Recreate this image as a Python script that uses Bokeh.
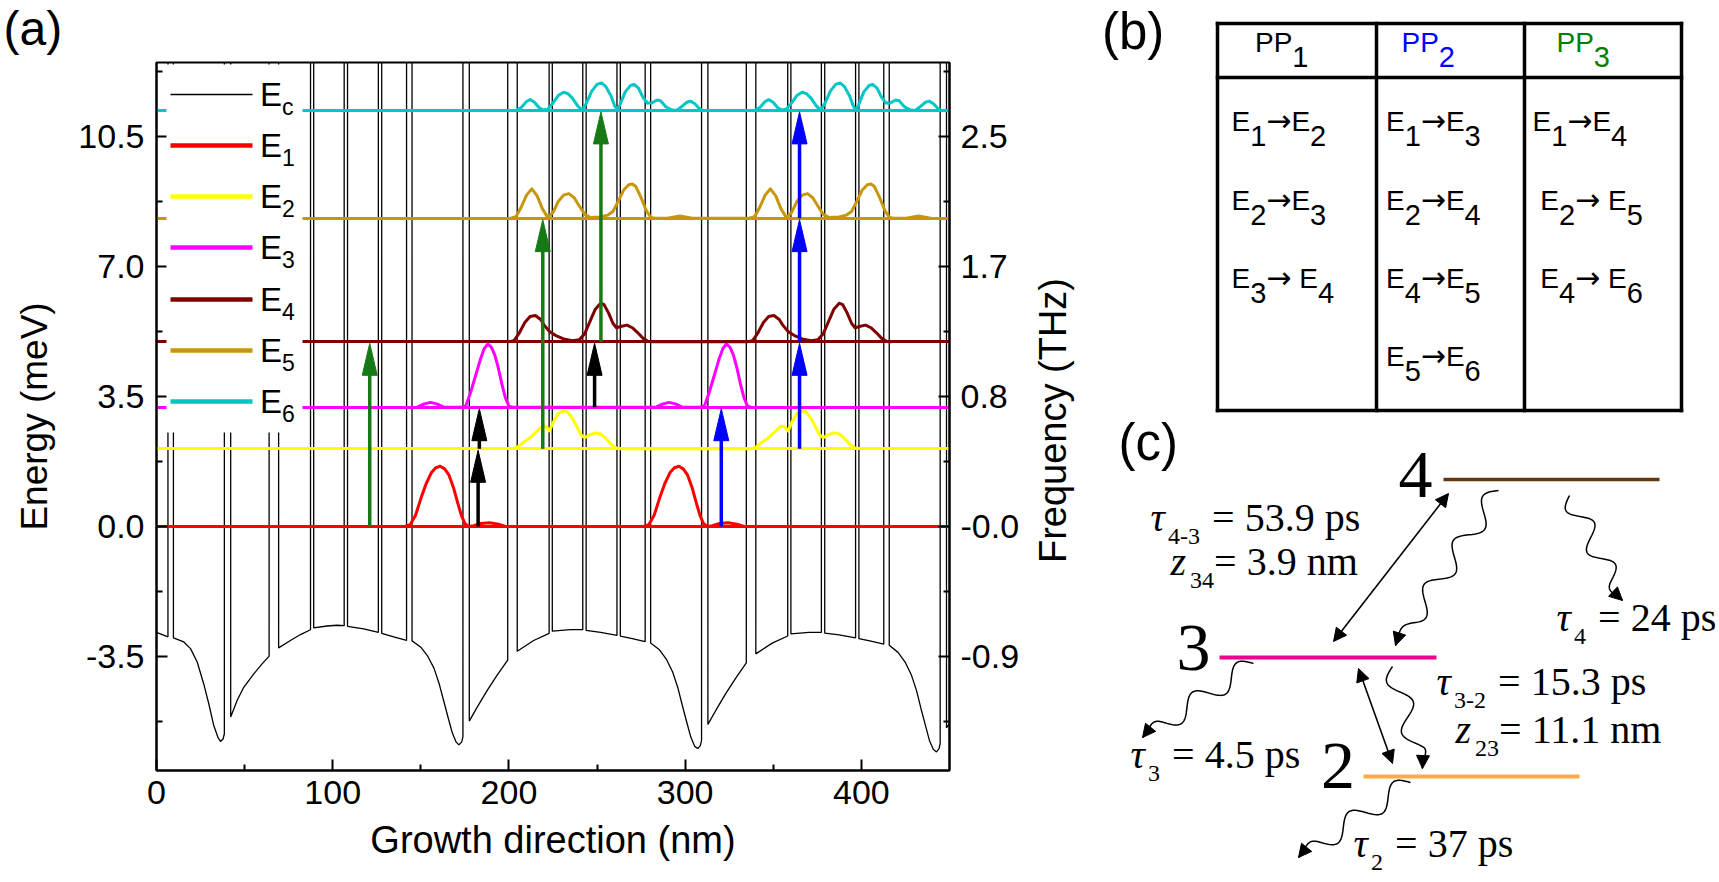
import math
from bokeh.plotting import figure
from bokeh.models import (Range1d, FixedTicker, Label, BoxAnnotation, Arrow, NormalHead,
                          LinearAxis, ColumnDataSource, CustomJSTickFormatter)
from bokeh.layouts import row, column
from bokeh.embed import file_html
from bokeh.resources import INLINE
from bokeh.core.properties import value, field

SANS = "Liberation Sans"
SERIF = "Liberation Serif"
ARROW_FONT = "DejaVu Sans"
BASELINE_SHIFT = 0.40   # em; compensates the renderer's placement of alphabetic baselines

# ============================ panel (a) data ============================
legend_subscripts = ["c", "1", "2", "3", "4", "5", "6"]
E_levels = [0.0, 2.09, 3.21, 4.97, 8.30, 11.20]            # meV
E_colors = ["#ff0000", "#ffff00", "#ff00ff", "#800000", "#c8960a", "#00c6c6"]

x_ticks = [0, 100, 200, 300, 400]
x_minor_ticks = [50, 150, 250, 350]
e_ticks = [-3.5, 0.0, 3.5, 7.0, 10.5]
e_minor_ticks = [-5.25, -1.75, 1.75, 5.25, 8.75, 12.25]
e_tick_labels = ["-3.5", "0.0", "3.5", "7.0", "10.5"]
thz_tick_labels = ["-0.9", "-0.0", "0.8", "1.7", "2.5"]

# conduction band: well-floor points (nm, meV); barrier edges (nm)
ec_x_p1 = [0.0, 6.5, 9.6, 15.5, 19.3, 23.1, 26.8, 29.7, 32.5, 34.8, 36.3, 37.8, 38.5,
           42.1, 45.8, 49.5, 55.2, 59.9, 63.9, 69.3, 76.0, 81.7, 87.4, 89.2, 96.8, 102.5, 106.5,
           108.4, 117.6, 125.9, 127.8, 134.6, 141.9]
ec_y_p1 = [-2.85, -2.97, -3.00, -3.11, -3.29, -3.65, -4.24, -4.78, -5.36, -5.67, -5.79, -5.72, -5.58,
           -5.13, -4.68, -4.33, -3.97, -3.70, -3.49, -3.27, -3.07, -2.91, -2.78, -2.73, -2.68, -2.66, -2.67,
           -2.69, -2.76, -2.85, -2.88, -2.97, -3.07]
ec_x_p2 = [145.0, 150.0, 154.0, 157.5, 160.5, 163.0, 165.5, 167.8, 170.0, 171.6, 173.2, 173.9,
           177.5, 181.9, 187.6, 193.2, 199.3, 204.7, 214.0, 222.8, 224.6, 234.8, 241.9,
           243.8, 252.0, 261.3, 263.2, 270.0, 277.3]
ec_y_p2 = [-3.08, -3.25, -3.50, -3.82, -4.25, -4.70, -5.15, -5.55, -5.80, -5.88, -5.80, -5.66,
           -5.24, -4.87, -4.42, -4.01, -3.60, -3.36, -3.07, -2.88, -2.82, -2.78, -2.78,
           -2.80, -2.85, -2.93, -2.95, -3.02, -3.10]
ec_x_p3 = [280.4, 285.4, 289.4, 292.9, 295.9, 298.4, 300.9, 303.2, 305.4, 307.2, 308.6, 309.3,
           312.9, 317.3, 323.0, 328.6, 334.7, 340.1, 349.4, 358.2, 360.0, 370.2, 377.3,
           379.2, 387.4, 396.7, 398.6, 405.4, 412.7]
ec_y_p3 = [-3.14, -3.32, -3.58, -3.92, -4.35, -4.82, -5.27, -5.67, -5.92, -5.98, -5.90, -5.76,
           -5.33, -4.96, -4.50, -4.09, -3.67, -3.43, -3.14, -2.95, -2.89, -2.85, -2.85,
           -2.87, -2.92, -3.00, -3.02, -3.09, -3.17]
ec_x_p4 = [415.8, 420.8, 424.8, 428.3, 431.3, 433.8, 436.3, 438.6, 440.8, 442.6, 444.0, 444.7, 448.3, 450.0]
ec_y_p4 = [-3.20, -3.39, -3.65, -3.99, -4.42, -4.90, -5.35, -5.76, -6.00, -6.07, -5.99, -5.85, -5.42, -5.30]
barrier_start = [6.5, 38.5, 63.9, 87.4, 106.5, 125.9, 141.9, 173.9, 199.3, 222.8, 241.9, 261.3, 277.3,
                 309.3, 334.7, 358.2, 377.3, 396.7, 412.7, 444.7]
barrier_end = [9.6, 42.1, 69.3, 89.2, 108.4, 127.8, 145.0, 177.5, 204.7, 224.6, 243.8, 263.2, 280.4,
               312.9, 340.1, 360.0, 379.2, 398.6, 415.8, 448.3]
BARRIER_TOP = 60.0

# |psi|^2 curves: x (nm) and height above the level (meV)
psi1_x = [141, 144, 147, 150, 153, 156, 158.5, 161, 163.5, 166, 168.5, 171, 173, 175, 177, 180, 184, 189, 194, 198,
          276.4, 279.4, 282.4, 285.4, 288.4, 291.4, 293.9, 296.4, 298.9, 301.4, 303.9, 306.4, 308.4, 310.4, 312.4,
          315.4, 319.4, 324.4, 329.4, 333.4]
psi1_h = [0.0, 0.05, 0.3, 0.75, 1.15, 1.45, 1.58, 1.62, 1.55, 1.38, 1.05, 0.62, 0.3, 0.08, 0.0, 0.02, 0.08, 0.1, 0.06, 0.0,
          0.0, 0.05, 0.3, 0.75, 1.15, 1.45, 1.58, 1.62, 1.55, 1.38, 1.05, 0.62, 0.3, 0.08, 0.0, 0.02, 0.08, 0.1, 0.06, 0.0]

psi2_x_a = [202, 205, 208, 212, 216, 219, 221, 223, 225, 228, 231, 233, 236, 239, 241, 243, 246, 249, 252, 255, 258, 261, 263]
psi2_x_b = [337.4, 340.4, 343.4, 347.4, 351.4, 354.4, 356.4, 358.4, 360.4, 363.4, 366.4, 368.4, 371.4, 374.4, 376.4,
            378.4, 381.4, 384.4, 387.4, 390.4, 393.4, 396.4, 398.4]
psi2_h = [0.0, 0.05, 0.17, 0.3, 0.48, 0.61, 0.6, 0.48, 0.7, 0.95, 1.02, 1.0, 0.82, 0.55, 0.37, 0.3, 0.38, 0.43, 0.4,
          0.28, 0.12, 0.02, 0.0]

psi3_x_a = [148, 152, 155.5, 159, 163, 173, 175.5, 178, 180, 182, 184, 186, 188, 190, 192, 194, 196, 198, 200, 202]
psi3_x_b = [283.4, 287.4, 290.9, 294.4, 298.4, 308.4, 310.9, 313.4, 315.4, 317.4, 319.4, 321.4, 323.4, 325.4, 327.4,
            329.4, 331.4, 333.4, 335.4, 337.4]
psi3_h = [0.0, 0.09, 0.13, 0.09, 0.0, 0.0, 0.03, 0.36, 0.68, 1.0, 1.32, 1.58, 1.7, 1.62, 1.4, 1.05, 0.62, 0.25, 0.03, 0.0]

psi4_x_a = [200, 203, 206, 209, 212, 215, 218, 220, 223, 227, 231, 236, 240, 243, 246, 249, 252, 254, 256.5, 259, 261,
            264, 267, 270, 273, 276, 279, 282]
psi4_x_b = [335.4, 338.4, 341.4, 344.4, 347.4, 350.4, 353.4, 355.4, 358.4, 362.4, 366.4, 371.4, 375.4, 378.4, 381.4,
            384.4, 387.4, 389.4, 391.9, 394.4, 396.4, 399.4, 402.4, 405.4, 408.4, 411.4, 414.4, 417.4]
psi4_h = [0.0, 0.04, 0.25, 0.52, 0.68, 0.71, 0.6, 0.45, 0.28, 0.16, 0.08, 0.03, 0.06, 0.22, 0.55, 0.88, 1.04, 1.0,
          0.78, 0.5, 0.38, 0.42, 0.45, 0.38, 0.25, 0.1, 0.01, 0.0]

psi5_x_a = [201, 204, 207, 210, 213, 216, 219, 222, 225, 228, 231, 234, 237, 240, 243, 246, 252, 256, 259, 262, 265,
            268, 270, 272, 275, 278, 280.5, 283, 290, 297, 304]
psi5_x_b = [336.4, 339.4, 342.4, 345.4, 348.4, 351.4, 354.4, 357.4, 360.4, 363.4, 366.4, 369.4, 372.4, 375.4, 378.4,
            381.4, 387.4, 391.4, 394.4, 397.4, 400.4, 403.4, 405.4, 407.4, 410.4, 413.4, 415.9, 418.4, 425.4, 432.4, 439.4]
psi5_h = [0.0, 0.04, 0.3, 0.62, 0.79, 0.6, 0.25, 0.02, 0.15, 0.45, 0.62, 0.66, 0.55, 0.32, 0.1, 0.02, 0.03, 0.08, 0.18,
          0.45, 0.75, 0.9, 0.92, 0.85, 0.55, 0.2, 0.02, 0.0, 0.0, 0.06, 0.0]

psi6_x_a = [204, 207, 210, 212, 214.5, 217, 219.5, 222, 225, 228, 231, 233.5, 236, 239, 241.5, 244, 247, 250, 252.5, 255,
            258, 260, 261.5, 263, 266, 269, 271, 273.5, 276, 278.5, 281, 284, 286, 289, 292, 295, 298, 301, 303, 305.5,
            308, 310]
psi6_x_b = [339.4, 342.4, 345.4, 347.4, 349.9, 352.4, 354.9, 357.4, 360.4, 363.4, 366.4, 368.9, 371.4, 374.4, 376.9,
            379.4, 382.4, 385.4, 387.9, 390.4, 393.4, 395.4, 396.9, 398.4, 401.4, 404.4, 406.4, 408.9, 411.4, 413.9,
            416.4, 419.4, 421.4, 424.4, 427.4, 430.4, 433.4, 436.4, 438.4, 440.9, 443.4, 445.4]
psi6_h = [0.0, 0.08, 0.24, 0.29, 0.22, 0.08, 0.01, 0.03, 0.2, 0.4, 0.49, 0.45, 0.33, 0.12, 0.01, 0.2, 0.52, 0.7, 0.74,
          0.64, 0.38, 0.12, 0.01, 0.15, 0.5, 0.67, 0.7, 0.6, 0.36, 0.2, 0.2, 0.28, 0.26, 0.1, 0.02, 0.0, 0.1, 0.22,
          0.25, 0.18, 0.05, 0.0]

# transitions drawn as arrows: x position (nm), from-level index, to-level index
GREEN = "#157a15"
BLUE = "#0000ff"
arrow_x = [182.5, 183.2, 248.6, 121.0, 219.2, 252.2, 320.5, 364.9, 364.9, 364.9]
arrow_from = [0, 1, 2, 0, 1, 3, 0, 1, 3, 4]
arrow_to = [1, 2, 3, 3, 4, 5, 2, 3, 4, 5]
arrow_color = ["#000000"] * 3 + [GREEN] * 3 + [BLUE] * 4

# ============================ panel (b) data ============================
table_headers = ["PP1", "PP2", "PP3"]
header_colors = ["#000000", "#0000ff", "#008000"]
table_columns = [["E1→E2", "E2→E3", "E3→ E4"],
                 ["E1→E3", "E2→E4", "E4→E5", "E5→E6"],
                 ["E1→E4", " E2→ E5", " E4→ E6"]]

# ============================ panel (c) data ============================
level_labels = ["4", "3", "2"]
level_colors = ["#603913", "#ec008c", "#f8ad3e"]
c_texts = [
    (1150, 533, [("τ", "it"), ("4-3", "sub"), (" = 53.9 ps", "rm")]),
    (1170, 577, [("z", "it"), ("34", "sub"), ("= 3.9 nm", "rm")]),
    (1556, 633, [("τ", "it"), ("4", "sub"), (" = 24 ps", "rm")]),
    (1436, 697, [("τ", "it"), ("3-2", "sub"), (" = 15.3 ps", "rm")]),
    (1455, 745, [("z", "it"), ("23", "sub"), ("= 11.1 nm", "rm")]),
    (1130, 770, [("τ", "it"), ("3", "sub"), (" = 4.5 ps", "rm")]),
    (1353, 859, [("τ", "it"), ("2", "sub"), (" = 37 ps", "rm")]),
]


def draw_y(baseline, size):
    """y (downward page px) at which to anchor text so its baseline lands on `baseline`."""
    return baseline - BASELINE_SHIFT * size


# ============================ layout sizes ============================
TOTAL_W, TOTAL_H = 1719, 882
LEFT_W = 1030
HEAD_H = 60
PA_H = TOTAL_H - HEAD_H
FRAME_LEFT, FRAME_RIGHT, FRAME_TOP, FRAME_BOTTOM = 156, 949, 62, 770   # page px
B_L = FRAME_LEFT
B_R = LEFT_W - FRAME_RIGHT
B_T = FRAME_TOP - HEAD_H
B_B = TOTAL_H - FRAME_BOTTOM
FRAME_W = FRAME_RIGHT - FRAME_LEFT
FRAME_H = FRAME_BOTTOM - FRAME_TOP
X_MIN, X_MAX = 0.0, 450.0
Y_MIN, Y_MAX = -6.57, 12.49

# header strip carrying the panel letter (a)
ph = figure(width=LEFT_W, height=HEAD_H, x_range=Range1d(0, LEFT_W), y_range=Range1d(HEAD_H, 0),
            toolbar_location=None, output_backend="svg", x_axis_type=None, y_axis_type=None, min_border=0)
ph.outline_line_color = None
ph.background_fill_color = "white"
ph.border_fill_color = "white"
ph.grid.visible = False
ph.text(x=[3], y=[draw_y(47, 48)], text=["(a)"], text_font=value(SANS), text_font_size="48px",
        text_color="black", text_align="left", text_baseline="alphabetic")

# ============================ panel (a) figure ============================
pa = figure(width=LEFT_W, height=PA_H, x_range=Range1d(X_MIN, X_MAX), y_range=Range1d(Y_MIN, Y_MAX),
            toolbar_location=None, output_backend="svg",
            min_border_left=B_L, min_border_right=B_R, min_border_top=B_T, min_border_bottom=B_B)
pa.background_fill_color = "white"
pa.border_fill_color = "white"
pa.xgrid.grid_line_color = None
pa.ygrid.grid_line_color = None
pa.outline_line_color = "black"
pa.outline_line_width = 2


def tick_formatter(vals, texts):
    return CustomJSTickFormatter(args=dict(tick_values=vals, tick_texts=texts), code="""
        for (let i = 0; i < tick_values.length; i++) {
            if (Math.abs(tick_values[i] - tick) < 1e-6) { return tick_texts[i]; }
        }
        return "";
    """)


def style_axis(ax, standoff):
    ax.major_tick_in = 11
    ax.major_tick_out = 0
    ax.minor_tick_in = 6
    ax.minor_tick_out = 0
    ax.major_tick_line_width = 2
    ax.minor_tick_line_width = 2
    ax.axis_line_width = 2
    ax.axis_line_color = "black"
    ax.major_tick_line_color = "black"
    ax.minor_tick_line_color = "black"
    ax.major_label_text_font = SANS
    ax.major_label_text_font_size = "34px"
    ax.major_label_text_color = "black"
    ax.major_label_standoff = standoff
    ax.axis_label_text_font = SANS
    ax.axis_label_text_font_style = "normal"
    ax.axis_label_text_color = "black"


xax = pa.xaxis[0]
xax.ticker = FixedTicker(ticks=x_ticks, minor_ticks=x_minor_ticks)
style_axis(xax, 10)
xax.axis_label = "Growth direction (nm)"
xax.axis_label_text_font_size = "38px"
xax.axis_label_standoff = 12

yax = pa.yaxis[0]
yax.ticker = FixedTicker(ticks=e_ticks, minor_ticks=e_minor_ticks)
yax.formatter = tick_formatter(e_ticks, e_tick_labels)
style_axis(yax, 12)
yax.axis_label = "Energy (meV)"
yax.axis_label_text_font_size = "37px"
yax.axis_label_standoff = 20

rax = LinearAxis(ticker=FixedTicker(ticks=e_ticks, minor_ticks=e_minor_ticks),
                 formatter=tick_formatter(e_ticks, thz_tick_labels))
style_axis(rax, 11)
pa.add_layout(rax, "right")

# conduction band profile with barriers
ec_x = ec_x_p1 + ec_x_p2 + ec_x_p3 + ec_x_p4
ec_y = ec_y_p1 + ec_y_p2 + ec_y_p3 + ec_y_p4
path_x, path_y = [], []
for x, y in zip(ec_x, ec_y):
    path_x.append(x)
    path_y.append(y)
    for bs, be in zip(barrier_start, barrier_end):
        if abs(x - bs) < 1e-9:
            path_x += [bs, be]
            path_y += [BARRIER_TOP, BARRIER_TOP]
pa.line(path_x, path_y, line_color="black", line_width=1.3)

# energy levels (baselines)
pa.hspan(y=E_levels, line_color=E_colors, line_width=3)

# probability densities
psi_sets = [
    (psi1_x, psi1_h),
    (psi2_x_a + psi2_x_b, psi2_h + psi2_h),
    (psi3_x_a + psi3_x_b, psi3_h + psi3_h),
    (psi4_x_a + psi4_x_b, psi4_h + psi4_h),
    (psi5_x_a + psi5_x_b, psi5_h + psi5_h),
    (psi6_x_a + psi6_x_b, psi6_h + psi6_h),
]
for (xs, hs), lev, col in zip(psi_sets, E_levels, E_colors):
    n = min(len(xs), len(hs))
    pa.line(xs[:n], [lev + h for h in hs[:n]], line_color=col, line_width=3, line_join="round")

# transition arrows
PX_PER_NM = FRAME_W / (X_MAX - X_MIN)
PX_PER_MEV = FRAME_H / (Y_MAX - Y_MIN)
HEAD_LEN_PX, HEAD_HALF_W_PX = 32.0, 7.5
head_dy = HEAD_LEN_PX / PX_PER_MEV
head_dx = HEAD_HALF_W_PX / PX_PER_NM
y0s = [E_levels[i] for i in arrow_from]
tips = [E_levels[i] - 0.04 for i in arrow_to]
bases = [t - head_dy for t in tips]
pa.segment(x0=arrow_x, y0=y0s, x1=arrow_x, y1=[b + 0.1 for b in bases],
           line_color=arrow_color, line_width=3.5)
pa.patches(xs=[[x - head_dx, x, x + head_dx] for x in arrow_x],
           ys=[[b, t, b] for b, t in zip(bases, tips)],
           fill_color=arrow_color, line_color=arrow_color, line_width=1)

# legend (drawn manually for subscripted labels); screen px from the frame's bottom-left
pa.add_layout(BoxAnnotation(left=10, right=146, bottom=338, top=706,
                            left_units="screen", right_units="screen",
                            bottom_units="screen", top_units="screen",
                            fill_color="white", fill_alpha=1.0, line_color=None))
legend_rows_y = [676, 625, 574, 523, 471, 420, 369]
legend_colors = ["#000000"] + E_colors
legend_thick = [1.5] + [4.5] * 6
for ys, col, th, sub in zip(legend_rows_y, legend_colors, legend_thick, legend_subscripts):
    pa.add_layout(BoxAnnotation(left=14, right=96, bottom=ys - th / 2, top=ys + th / 2,
                                left_units="screen", right_units="screen",
                                bottom_units="screen", top_units="screen",
                                fill_color=col, fill_alpha=1.0, line_color=None))
    pa.add_layout(Label(x=103.5, y=ys - 13 + BASELINE_SHIFT * 33, x_units="screen", y_units="screen", text="E",
                        text_font=SANS, text_font_size="33px", text_color="black",
                        text_align="left", text_baseline="alphabetic"))
    pa.add_layout(Label(x=125.5, y=ys - 21.5 + BASELINE_SHIFT * 23, x_units="screen", y_units="screen", text=sub,
                        text_font=SANS, text_font_size="23px", text_color="black",
                        text_align="left", text_baseline="alphabetic"))

# ============================ panels (b) + (c) figure ============================
PB_W = TOTAL_W - LEFT_W
pb = figure(width=PB_W, height=TOTAL_H, x_range=Range1d(LEFT_W, TOTAL_W), y_range=Range1d(TOTAL_H, 0),
            toolbar_location=None, output_backend="svg", x_axis_type=None, y_axis_type=None, min_border=0)
pb.outline_line_color = None
pb.background_fill_color = "white"
pb.border_fill_color = "white"
pb.grid.visible = False
for fig in (ph, pa, pb):
    try:
        fig.frame_align = False
    except Exception:
        pass

# right-hand axis title of panel (a) (sits just right of the tick labels)
pb.text(x=[1052], y=[420], text=["Frequency (THz)"], angle=math.pi / 2, text_font=value(SANS),
        text_font_size="38px", text_color="black", text_align="center", text_baseline="middle")

# table geometry (layout)
tab_x = [1217, 1376, 1524, 1681]
tab_y = [23, 77, 410]
seg_x0 = [tab_x[0]] * len(tab_y) + tab_x
seg_x1 = [tab_x[-1]] * len(tab_y) + tab_x
seg_y0 = tab_y + [tab_y[0]] * len(tab_x)
seg_y1 = tab_y + [tab_y[-1]] * len(tab_x)
pb.segment(x0=seg_x0, y0=seg_y0, x1=seg_x1, y1=seg_y1, line_color="black", line_width=3.5,
           line_cap="square")

SANS_EM = {"E": 0.667, "P": 0.667, " ": 0.278}
ARROW_SIZE, ARROW_EM = 30, 0.838
sans_pieces = dict(x=[], y=[], t=[], fs=[], c=[])
arrow_pieces = dict(x=[], y=[], t=[], fs=[], c=[])


def add_sans_rich(x, y, s, color, main=28, sub=29, dy=15):
    runs = []
    for ch in s:
        kind = "sub" if ch.isdigit() else ("arrow" if ch == "→" else "main")
        if runs and runs[-1][1] == kind:
            runs[-1][0] += ch
        else:
            runs.append([ch, kind])
    for txt, kind in runs:
        if kind == "arrow":
            arrow_pieces["x"].append(x)
            arrow_pieces["y"].append(draw_y(y, ARROW_SIZE))
            arrow_pieces["t"].append(txt)
            arrow_pieces["fs"].append("%dpx" % ARROW_SIZE)
            arrow_pieces["c"].append(color)
            x += ARROW_EM * ARROW_SIZE * len(txt)
            continue
        size = sub if kind == "sub" else main
        lead = len(txt) - len(txt.lstrip(" "))
        x += lead * SANS_EM[" "] * size
        body = txt.strip(" ")
        if body:
            sans_pieces["x"].append(x)
            sans_pieces["y"].append(draw_y(y + (dy if kind == "sub" else 0), size))
            sans_pieces["t"].append(body)
            sans_pieces["fs"].append("%dpx" % size)
            sans_pieces["c"].append(color)
        x += sum(SANS_EM.get(ch, 0.556) for ch in txt.lstrip(" ")) * size


header_x = [1254.5, 1401, 1556]
cell_x = [1231, 1385.5, 1532]
row_baselines = [131.7, 210.7, 289.0, 366.7]
for hx, txt, col in zip(header_x, table_headers, header_colors):
    add_sans_rich(hx, 53.3, txt, col)
for cx, col_items in zip(cell_x, table_columns):
    for ry, txt in zip(row_baselines, col_items):
        add_sans_rich(cx, ry, txt, "#000000")

pb.text(x="x", y="y", text="t", source=ColumnDataSource(sans_pieces),
        text_font=value(SANS), text_font_size=field("fs"), text_color=field("c"),
        text_align="left", text_baseline="alphabetic")
pb.text(x="x", y="y", text="t", source=ColumnDataSource(arrow_pieces),
        text_font=value(ARROW_FONT), text_font_size=field("fs"), text_color=field("c"),
        text_align="left", text_baseline="alphabetic")

# panel letters
pb.text(x=[1101.5, 1118], y=[draw_y(51.5, 51), draw_y(462, 51)], text=["(b)", "(c)"], text_font=value(SANS),
        text_font_size="51px", text_color="black", text_align="left", text_baseline="alphabetic")

# energy levels of panel (c)
lvl_x0 = [1443, 1219, 1363]
lvl_x1 = [1659, 1436, 1579]
lvl_y = [479, 657, 776]
pb.segment(x0=lvl_x0, y0=lvl_y, x1=lvl_x1, y1=lvl_y, line_color=level_colors, line_width=[3.5, 4, 4])
pb.text(x=[1415, 1193, 1337.5], y=[draw_y(b, 68) for b in (502, 675, 793)], text=level_labels,
        text_font=value(SERIF), text_font_size="68px", text_color="black", text_align="center",
        text_baseline="alphabetic")

# serif rich texts
SERIF_EM = {"τ": 0.44, "z": 0.49, "-": 0.333, "=": 0.564, " ": 0.30, ".": 0.25,
            "p": 0.5, "s": 0.389, "n": 0.5, "m": 0.778}
it_p = dict(x=[], y=[], t=[], fs=[])
rm_p = dict(x=[], y=[], t=[], fs=[])
for x0, y0, runs in c_texts:
    x = x0
    for txt, kind in runs:
        size = 24 if kind == "sub" else 40
        yy = draw_y(y0 + (13 if kind == "sub" else 0), size)
        lead = len(txt) - len(txt.lstrip(" "))
        x += lead * SERIF_EM[" "] * size
        body = txt.strip(" ")
        target = it_p if kind == "it" else rm_p
        target["x"].append(x)
        target["y"].append(yy)
        target["t"].append(body)
        target["fs"].append("%dpx" % size)
        x += sum(SERIF_EM.get(ch, 0.5) for ch in txt.lstrip(" ")) * size

pb.text(x="x", y="y", text="t", source=ColumnDataSource(rm_p), text_font=value(SERIF),
        text_font_size=field("fs"), text_color="black", text_align="left", text_baseline="alphabetic")
pb.text(x="x", y="y", text="t", source=ColumnDataSource(it_p), text_font=value(SERIF),
        text_font_size=field("fs"), text_font_style="italic", text_color="black",
        text_align="left", text_baseline="alphabetic")

# straight (double-headed) arrows: coupling between levels
double_arrows = [(1448, 493, 1333, 641), (1358, 668, 1392, 763)]
for xs_, ys_, xe_, ye_ in double_arrows:
    pb.add_layout(Arrow(x_start=xs_, y_start=ys_, x_end=xe_, y_end=ye_, line_width=1.6, line_color="black",
                        start=NormalHead(size=13, fill_color="black", line_color="black", line_width=1),
                        end=NormalHead(size=13, fill_color="black", line_color="black", line_width=1)))

# wavy arrows: scattering / lifetimes (start, end, number of wiggles)
wave_arrows = [(1498, 490, 1395, 645, 3.5), (1569, 495, 1622, 600, 2.5), (1253, 663, 1142, 737, 2.5),
               (1392, 666, 1422, 768, 2.0), (1410, 782, 1298, 857, 2.5)]
WAVE_AMP = 10.0
for x0, y0, x1, y1, nw in wave_arrows:
    dx, dy = x1 - x0, y1 - y0
    L = math.hypot(dx, dy)
    nx, ny = -dy / L, dx / L
    wx, wy = [], []
    steps = 160
    for i in range(steps + 1):
        t = i / steps
        fade = min(1.0, (1.0 - t) / 0.18)
        off = WAVE_AMP * fade * math.sin(2 * math.pi * nw * t)
        wx.append(x0 + dx * t + nx * off)
        wy.append(y0 + dy * t + ny * off)
    pb.line(wx, wy, line_color="black", line_width=1.5)
    pb.add_layout(Arrow(x_start=wx[-10], y_start=wy[-10], x_end=x1, y_end=y1, line_width=1.5,
                        line_color="black",
                        end=NormalHead(size=13, fill_color="black", line_color="black", line_width=1)))

layout = row(column(ph, pa), pb)
open("out.html", "w").write(file_html(layout, INLINE))
